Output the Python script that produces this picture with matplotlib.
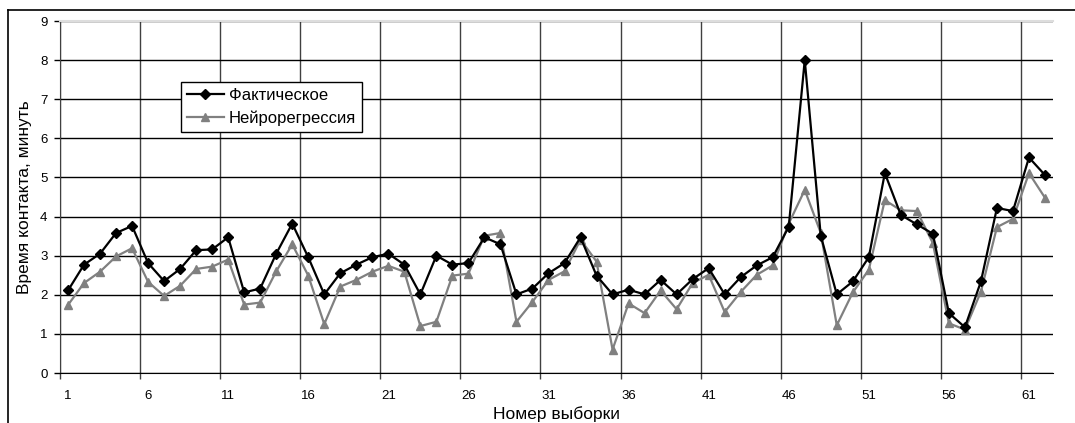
import matplotlib
matplotlib.use("Agg")
import matplotlib.pyplot as plt
from matplotlib.lines import Line2D
import numpy as np

plt.rcParams['font.family'] = ['Liberation Sans', 'DejaVu Sans']

sample_numbers = list(range(1, 63))

actual = [2.11, 2.77, 3.05, 3.58, 3.76, 2.81, 2.35, 2.66, 3.14, 3.16,
          3.47, 2.06, 2.16, 3.05, 3.82, 2.96, 2.01, 2.55, 2.77, 2.96,
          3.05, 2.77, 2.01, 3.00, 2.77, 2.81, 3.47, 3.29, 2.01, 2.16,
          2.55, 2.81, 3.47, 2.49, 2.01, 2.13, 2.01, 2.38, 2.01, 2.40,
          2.68, 2.01, 2.45, 2.75, 2.96, 3.74, 8.00, 3.51, 2.01, 2.34,
          2.96, 5.11, 4.04, 3.80, 3.56, 1.53, 1.17, 2.34, 4.22, 4.14,
          5.51, 5.06]

neuro = [1.74, 2.30, 2.59, 2.98, 3.19, 2.33, 1.97, 2.23, 2.66, 2.72,
         2.90, 1.75, 1.80, 2.60, 3.29, 2.49, 1.25, 2.21, 2.38, 2.59,
         2.74, 2.59, 1.20, 1.31, 2.49, 2.54, 3.51, 3.58, 1.31, 1.82,
         2.38, 2.60, 3.41, 2.85, 0.60, 1.78, 1.53, 2.11, 1.63, 2.30,
         2.51, 1.56, 2.07, 2.51, 2.75, 3.82, 4.68, 3.58, 1.22, 2.06,
         2.64, 4.42, 4.16, 4.14, 3.32, 1.27, 1.11, 2.08, 3.73, 3.94,
         5.11, 4.48]

x_tick_labels = [1, 6, 11, 16, 21, 26, 31, 36, 41, 46, 51, 56, 61]
y_ticks = list(range(0, 10))

series_labels = ["Фактическое", "Нейрорегрессия"]
x_label = "Номер выборки"
y_label = "Время контакта, минуть"

W, H = 1075, 423
fig = plt.figure(figsize=(W / 100, H / 100), dpi=100)
ax = fig.add_axes([60 / W, 1 - 373 / H, (1053 - 60) / W, (373 - 21) / H])

ax.plot(sample_numbers, actual, color="black", lw=1.6, marker="D",
        markersize=5.5, label=series_labels[0], zorder=4)
ax.plot(sample_numbers, neuro, color="#808080", lw=1.6, marker="^",
        markersize=5.5, label=series_labels[1], zorder=3)

ax.set_xlim(0.5, len(sample_numbers) + 0.5)
ax.set_ylim(0, 9)

# major ticks at category boundaries (gridlines), labels on minor ticks
bounds = [v - 0.5 for v in x_tick_labels]
ax.set_xticks(bounds)
ax.set_xticklabels([])
ax.set_xticks(x_tick_labels, minor=True)
ax.set_xticklabels([str(v) for v in x_tick_labels], minor=True)
ax.tick_params(axis="x", which="major", length=4, width=1, color="#404040")
ax.tick_params(axis="x", which="minor", length=0, labelsize=9.5, pad=12)

ax.set_yticks(y_ticks)
ax.tick_params(axis="y", length=4, width=1, labelsize=9.5, pad=5)

ax.grid(axis="y", color="black", lw=1, zorder=1)
ax.grid(axis="x", which="major", color="#404040", lw=1, zorder=1)

ax.spines["right"].set_visible(False)
ax.spines["top"].set_color("#dddddd")
ax.spines["top"].set_linewidth(1.5)
ax.spines["left"].set_color("#404040")
ax.spines["bottom"].set_color("black")

ax.set_xlabel(x_label, fontsize=12.5, labelpad=3)
ax.set_ylabel(y_label, fontsize=12.5, labelpad=6)

leg = ax.legend(loc="upper left", bbox_to_anchor=(181 / W, 1 - 82 / H),
                bbox_transform=fig.transFigure, borderaxespad=0,
                fontsize=12, fancybox=False, framealpha=1,
                edgecolor="black", handlelength=2.2, handletextpad=0.3,
                borderpad=0.35, labelspacing=0.45)
leg.get_frame().set_linewidth(1)

# outer chart border (top and left)
fig.add_artist(Line2D([8 / W, 1.0], [1 - 10 / H, 1 - 10 / H],
                      transform=fig.transFigure, color="black", lw=1.2))
fig.add_artist(Line2D([8 / W, 8 / W], [0, 1 - 10 / H],
                      transform=fig.transFigure, color="black", lw=1.2))

fig.savefig("out.png", dpi=100)
